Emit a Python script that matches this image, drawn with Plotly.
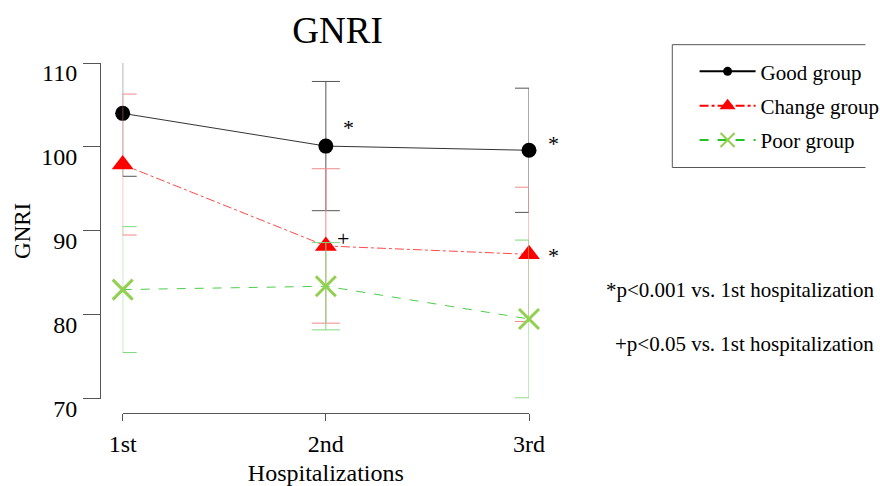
import plotly.graph_objects as go

hospitalizations = ["1st", "2nd", "3rd"]

good_mean = [104.0, 100.1, 99.6]
good_sd = [7.5, 7.7, 7.4]

change_mean = [97.9, 88.2, 87.2]
change_sd = [8.4, 9.2, 8.0]

poor_mean = [83.0, 83.4, 79.5]
poor_sd = [7.5, 5.2, 9.4]

y_ticks = [70, 80, 90, 100, 110]

FONT = "Liberation Serif, Times New Roman, serif"

W, H = 880, 486
PL, PT, PR, PB = 100, 63.3, 529.3, 413  # plot-area edges in pixels
PW, PH = PR - PL, PB - PT


def px_x(page_x):
    return (page_x - PL) / PW


def px_y(page_y):
    return (PB - page_y) / PH


fig = go.Figure()

fig.add_trace(go.Scatter(
    x=hospitalizations, y=good_mean, name="Good group", showlegend=False,
    mode="lines+markers", cliponaxis=False,
    line=dict(color="#333333", width=1),
    marker=dict(symbol="circle", size=15, color="black"),
    error_y=dict(type="data", array=good_sd, visible=True, color="#555555", thickness=1, width=14),
))
fig.add_trace(go.Scatter(
    x=hospitalizations, y=change_mean, name="Change group", showlegend=False,
    mode="lines+markers", cliponaxis=False,
    line=dict(color="#ff4a4a", width=1, dash="dashdot"),
    marker=dict(symbol="triangle-up", size=19, color="red"),
    error_y=dict(type="data", array=change_sd, visible=True, color="#f08a8a", thickness=1, width=14),
))
fig.add_trace(go.Scatter(
    x=hospitalizations, y=poor_mean, name="Poor group", showlegend=False,
    mode="lines+markers", cliponaxis=False,
    line=dict(color="#4ccc4c", width=1, dash="dash"),
    marker=dict(symbol="x-thin", size=20, line=dict(color="#92d050", width=3)),
    error_y=dict(type="data", array=poor_sd, visible=True, color="#7fd97f", thickness=1, width=14),
))

# legend-only entries (no data) with the reference's small legend glyphs
fig.add_trace(go.Scatter(x=[None], y=[None], name="Good group", legendgroup="g1",
                         mode="lines+markers", line=dict(color="black", width=2),
                         marker=dict(symbol="circle", size=9, color="black")))
fig.add_trace(go.Scatter(x=[None], y=[None], name="Change group", legendgroup="g2",
                         mode="lines+markers", line=dict(color="red", width=2, dash="dashdot"),
                         marker=dict(symbol="triangle-up", size=14, color="red")))
fig.add_trace(go.Scatter(x=[None], y=[None], name="Poor group", legendgroup="g3",
                         mode="lines+markers", line=dict(color="#22c322", width=2, dash="dash"),
                         marker=dict(symbol="x-thin", size=14, line=dict(color="#92d050", width=2))))

# significance marks (pixel positions of glyph box centres)
marks = [("*", 348.3, 128), ("*", 554, 144), ("*", 554, 255.5), ("+", 343.3, 238.5)]
for txt, xx, yy in marks:
    fig.add_annotation(x=px_x(xx), y=px_y(yy), xref="paper", yref="paper", text=txt,
                       showarrow=False, font=dict(family=FONT, size=22, color="black"),
                       xanchor="center", yanchor="middle")

fig.add_annotation(x=px_x(877), y=px_y(290), xref="paper", yref="paper",
                   text="*p<0.001 vs. 1st hospitalization", showarrow=False,
                   xanchor="right", yanchor="middle",
                   font=dict(family=FONT, size=21, color="black"))
fig.add_annotation(x=px_x(877), y=px_y(344), xref="paper", yref="paper",
                   text="+p<0.05 vs. 1st hospitalization", showarrow=False,
                   xanchor="right", yanchor="middle",
                   font=dict(family=FONT, size=21, color="black"))

# legend frame: open on the right, it runs off the picture as in the reference
lx0, lx1 = px_x(672.7), px_x(866)
ly0, ly1 = px_y(167.7), px_y(45)
fig.add_shape(type="path", xref="paper", yref="paper",
              path=f"M {lx1},{ly1} L {lx0},{ly1} L {lx0},{ly0} L {lx1},{ly0}",
              line=dict(color="#555555", width=1), fillcolor="rgba(0,0,0,0)")

fig.update_layout(
    width=W, height=H,
    margin=dict(l=PL, r=W - PR, t=PT, b=H - PB, pad=0, autoexpand=False),
    paper_bgcolor="white", plot_bgcolor="white",
    font=dict(family=FONT, color="black"),
    title=dict(text="GNRI", x=337.5 / W, y=1 - 30 / H, xref="container", yref="container",
               xanchor="center", yanchor="middle", font=dict(family=FONT, size=37, color="black")),
    showlegend=True,
    legend=dict(x=px_x(695), y=px_y(51.5), xanchor="left", yanchor="top",
                borderwidth=0, bgcolor="rgba(0,0,0,0)",
                font=dict(family=FONT, size=21, color="black"),
                itemwidth=56, itemsizing="trace", tracegroupgap=4, traceorder="grouped"),
    xaxis=dict(
        domain=[22.7 / PW, 1], range=[0, 2], anchor="free", position=0,
        showline=True, linecolor="#555555", linewidth=1,
        ticks="outside", ticklen=7, tickcolor="#555555",
        showgrid=False, zeroline=False,
        tickfont=dict(family=FONT, size=24, color="black"),
        ticklabelstandoff=2,
        title=dict(text="Hospitalizations", font=dict(family=FONT, size=24, color="black"), standoff=9),
    ),
    yaxis=dict(
        domain=[(PB - 398.7) / PH, 1], range=[70, 110], anchor="free", position=0,
        tickvals=y_ticks,
        showline=True, linecolor="#555555", linewidth=1,
        ticks="outside", ticklen=17, tickcolor="#555555",
        showgrid=False, zeroline=False,
        tickfont=dict(family=FONT, size=24, color="black"),
        ticklabelstandoff=1, ticklabelshift=10,
        title=dict(text="GNRI", font=dict(family=FONT, size=23, color="black"), standoff=3),
    ),
)

fig.write_html(
    "out.html",
    config={"displayModeBar": False},
    post_script="document.body.style.margin='0';document.body.style.overflow='hidden';",
)
